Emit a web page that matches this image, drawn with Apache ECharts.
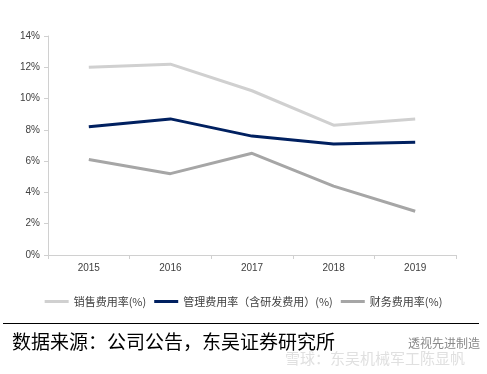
<!DOCTYPE html>
<html><head><meta charset="utf-8">
<script src="https://cdn.jsdelivr.net/npm/echarts@6/dist/echarts.min.js"></script>
<style>html,body{margin:0;padding:0;background:#fff;}#c{width:487px;height:374px;}</style>
</head><body><div id="c"></div>
<script>
var categories = ['2015','2016','2017','2018','2019'];
var salesRate = [12.0, 12.2, 10.5, 8.3, 8.7];
var adminRate = [8.2, 8.7, 7.6, 7.1, 7.2];
var financeRate = [6.1, 5.2, 6.5, 4.4, 2.8];
var seriesNames = ['销售费用率(%)', '管理费用率（含研发费用）(%)', '财务费用率(%)'];
var yTicks = [0, 2, 4, 6, 8, 10, 12, 14];

var chart = echarts.init(document.getElementById('c'));
var lab = {color:'#404040', fontSize:10, fontFamily:'Liberation Sans, Arial'};
chart.setOption({
  animation:false,
  grid:{left:48, right:31, top:36, bottom:119, containLabel:false},
  legend:{
    top:291, left:'center', itemWidth:24, itemHeight:3, itemGap:8,
    icon:'rect',
    textStyle:{color:'#404040', fontSize:11, fontFamily:'Noto Sans CJK SC'},
    data:seriesNames
  },
  xAxis:{
    type:'category', data:categories, boundaryGap:true,
    axisLine:{lineStyle:{color:'#d0d0d0'}},
    axisTick:{show:true, length:4, lineStyle:{color:'#d0d0d0'}},
    axisLabel:Object.assign({margin:8}, lab)
  },
  yAxis:{
    type:'value', min:yTicks[0], max:yTicks[yTicks.length-1], interval:2,
    axisLine:{show:true, lineStyle:{color:'#d0d0d0'}},
    axisTick:{show:true, length:4, lineStyle:{color:'#d0d0d0'}},
    splitLine:{show:false},
    axisLabel:Object.assign({margin:8, formatter:'{value}%'}, lab)
  },
  series:[
    {name:seriesNames[0], type:'line', data:salesRate, symbol:'none', lineStyle:{color:'#d0d0d0', width:3}, itemStyle:{color:'#d0d0d0'}},
    {name:seriesNames[1], type:'line', data:adminRate, symbol:'none', lineStyle:{color:'#002060', width:3}, itemStyle:{color:'#002060'}},
    {name:seriesNames[2], type:'line', data:financeRate, symbol:'none', lineStyle:{color:'#a6a6a6', width:3}, itemStyle:{color:'#a6a6a6'}}
  ],
  graphic:[
    {type:'line', shape:{x1:3, y1:323.5, x2:479, y2:323.5}, style:{stroke:'#000', lineWidth:1.2}},
    {type:'text', left:12, top:332, style:{text:'数据来源：公司公告，东吴证券研究所', fill:'#000', fontSize:19, fontFamily:'Noto Sans CJK SC'}},
    {type:'text', left:408, top:337, style:{text:'透视先进制造', fill:'#8a8a8a', fontSize:12, fontFamily:'Noto Sans CJK SC'}},
    {type:'text', left:285, top:351, style:{text:'雪球：东吴机械军工陈显帆', fill:'#e0e0e0', fontSize:15, fontFamily:'Noto Sans CJK SC'}}
  ]
});
</script></body></html>
